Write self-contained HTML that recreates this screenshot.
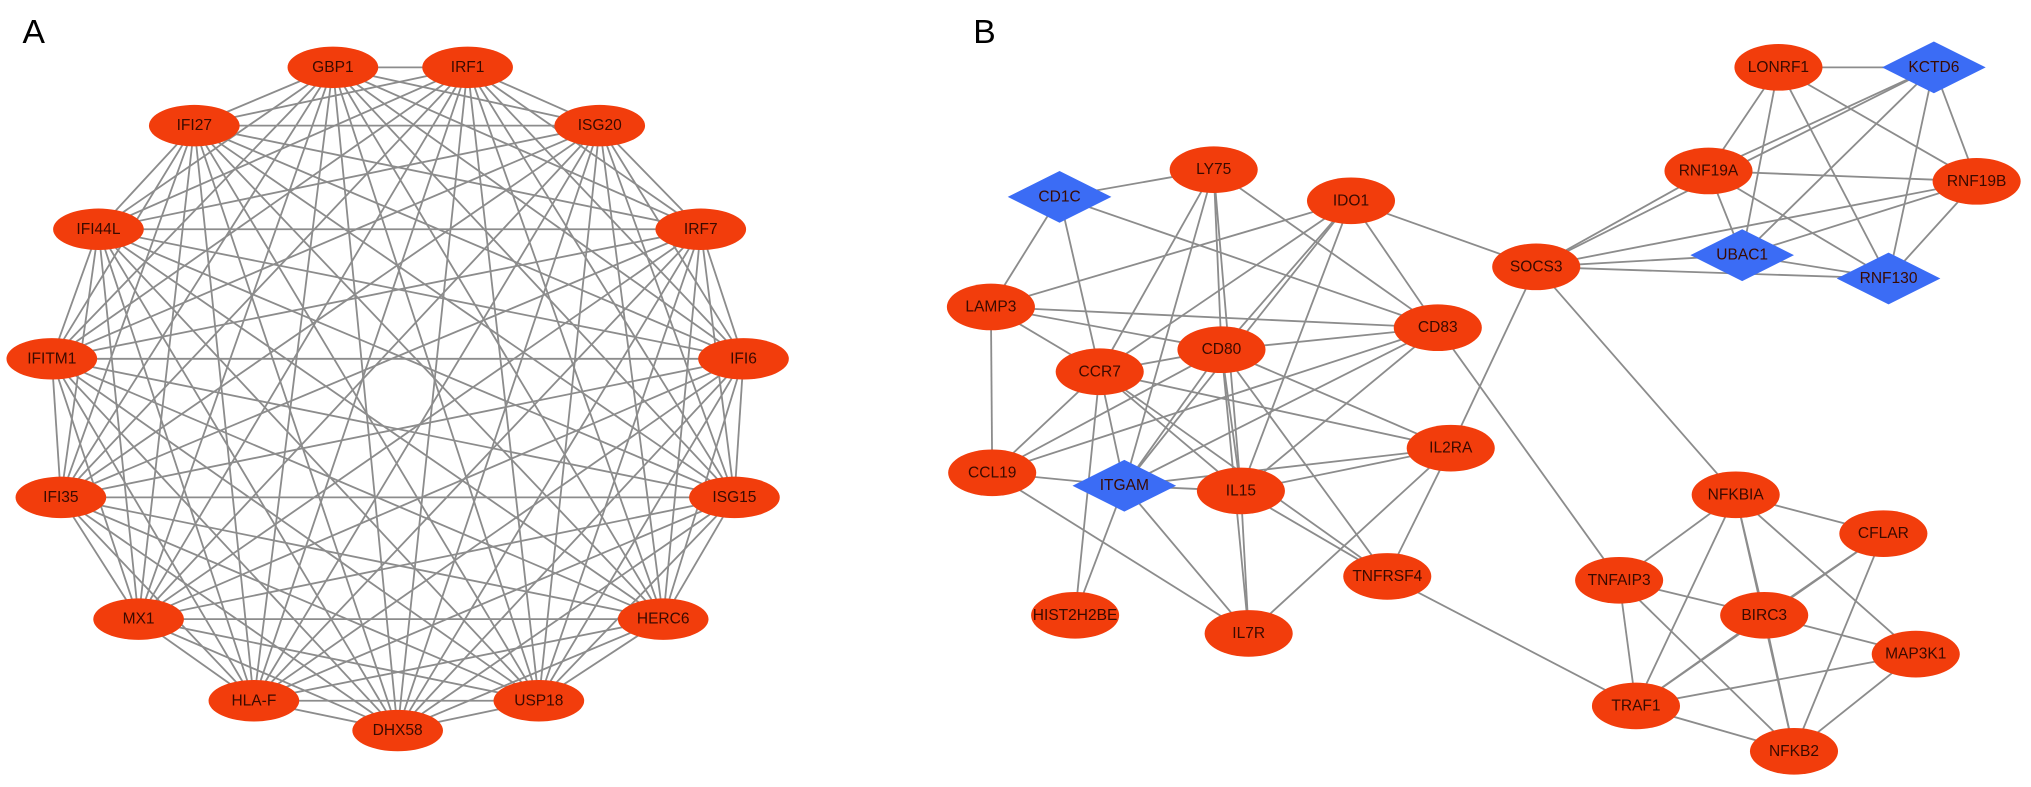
<!DOCTYPE html><html><head><meta charset="utf-8"><style>body{margin:0;background:#fff}svg{display:block}text{font-family:"Liberation Sans",sans-serif;font-size:12px;fill:#3a0a00;text-anchor:middle;dominant-baseline:central}</style></head><body>
<svg id="s" width="2031" height="787" xmlns="http://www.w3.org/2000/svg">
<g transform="scale(1.2953)">
<text x="26" y="25" style="font-size:26px;fill:#000">A</text>
<text x="760" y="25" style="font-size:26px;fill:#000">B</text>
<g id="e" stroke="#8c8c8c" stroke-width="1.4"></g><g id="n"></g>
</g>
</svg>
<script>
const A={GBP1:[257,52],IRF1:[361,52],IFI27:[150,97],ISG20:[463,97],IFI44L:[76,177],IRF7:[541,177],IFITM1:[40,277],IFI6:[574,277],IFI35:[47,384],ISG15:[567,384],MX1:[107,478],HERC6:[512,478],"HLA-F":[196,541],USP18:[416,541],DHX58:[307,564]};
const B={LONRF1:[1373,52],KCTD6:[1493,52,1],RNF19A:[1319,132],RNF19B:[1526,140],SOCS3:[1186,206],UBAC1:[1345,197,1],RNF130:[1458,215,1],LY75:[937,131],IDO1:[1043,155],CD1C:[818,152,1],LAMP3:[765,237],CD80:[943,270],CCR7:[849,287],CD83:[1110,253],IL2RA:[1120,346],CCL19:[766,365],ITGAM:[868,375,1],IL15:[958,379],TNFRSF4:[1071,445],HIST2H2BE:[830,475],IL7R:[964,489],NFKBIA:[1340,382],CFLAR:[1454,412],TNFAIP3:[1250,448],BIRC3:[1362,475],MAP3K1:[1479,505],TRAF1:[1263,545],NFKB2:[1385,580]};
const EB=`LONRF1-KCTD6 LONRF1-RNF19A LONRF1-RNF19B LONRF1-UBAC1 LONRF1-RNF130 KCTD6-RNF19A KCTD6-RNF19B KCTD6-UBAC1 KCTD6-RNF130 KCTD6-SOCS3 RNF19A-RNF19B RNF19A-UBAC1 RNF19A-RNF130 RNF19A-SOCS3 RNF19B-UBAC1 RNF19B-RNF130 RNF19B-SOCS3 UBAC1-RNF130 UBAC1-SOCS3 RNF130-SOCS3 SOCS3-IDO1 SOCS3-IL2RA SOCS3-NFKBIA CD83-TNFAIP3 TNFRSF4-TRAF1 LY75-CD1C LY75-CCR7 LY75-CD80 LY75-CD83 LY75-ITGAM LY75-IL15 CD1C-LAMP3 CD1C-CCR7 CD1C-CD83 IDO1-CD80 IDO1-CCR7 IDO1-CD83 IDO1-ITGAM IDO1-IL15 IDO1-LAMP3 LAMP3-CCL19 LAMP3-CCR7 LAMP3-CD80 LAMP3-CD83 CCR7-CD80 CCR7-CCL19 CCR7-ITGAM CCR7-IL15 CCR7-IL2RA CCR7-TNFRSF4 CD80-CD83 CD80-IL15 CD80-ITGAM CD80-IL2RA CD80-TNFRSF4 CD80-IL7R CD80-CCL19 CD83-ITGAM CD83-IL15 CD83-CCL19 IL2RA-IL15 IL2RA-ITGAM IL2RA-TNFRSF4 IL2RA-IL7R CCL19-ITGAM CCL19-IL7R ITGAM-IL15 ITGAM-HIST2H2BE ITGAM-IL7R IL15-TNFRSF4 IL15-IL7R CCR7-HIST2H2BE NFKBIA-CFLAR NFKBIA-TNFAIP3 NFKBIA-BIRC3 NFKBIA-MAP3K1 NFKBIA-TRAF1 NFKBIA-NFKB2 CFLAR-BIRC3 CFLAR-TRAF1 CFLAR-NFKB2 TNFAIP3-BIRC3 TNFAIP3-TRAF1 TNFAIP3-NFKB2 BIRC3-MAP3K1 BIRC3-TRAF1 BIRC3-NFKB2 MAP3K1-TRAF1 MAP3K1-NFKB2 TRAF1-NFKB2`.split(' ');
const ns="http://www.w3.org/2000/svg",eg=document.getElementById('e'),ng=document.getElementById('n');
function L(a,b){const l=document.createElementNS(ns,'line');l.setAttribute('x1',a[0]);l.setAttribute('y1',a[1]);l.setAttribute('x2',b[0]);l.setAttribute('y2',b[1]);eg.appendChild(l);}
const ka=Object.keys(A);for(let i=0;i<ka.length;i++)for(let j=i+1;j<ka.length;j++)L(A[ka[i]],A[ka[j]]);
EB.forEach(s=>{const[p,q]=s.split('-');L(B[p],B[q]);});
function N(name,p,rx,ry){let el;if(p[2]){el=document.createElementNS(ns,'polygon');el.setAttribute('points',`${p[0]-40},${p[1]} ${p[0]},${p[1]-20} ${p[0]+40},${p[1]} ${p[0]},${p[1]+20}`);el.setAttribute('fill','#3b6cf5');}else{el=document.createElementNS(ns,'ellipse');el.setAttribute('cx',p[0]);el.setAttribute('cy',p[1]);el.setAttribute('rx',rx);el.setAttribute('ry',ry);el.setAttribute('fill','#f23d0c');}ng.appendChild(el);const t=document.createElementNS(ns,'text');t.setAttribute('x',p[0]);t.setAttribute('y',p[1]);t.textContent=name;ng.appendChild(t);}
ka.forEach(k=>N(k,A[k],35,16));Object.keys(B).forEach(k=>N(k,B[k],34,18));
</script></body></html>
